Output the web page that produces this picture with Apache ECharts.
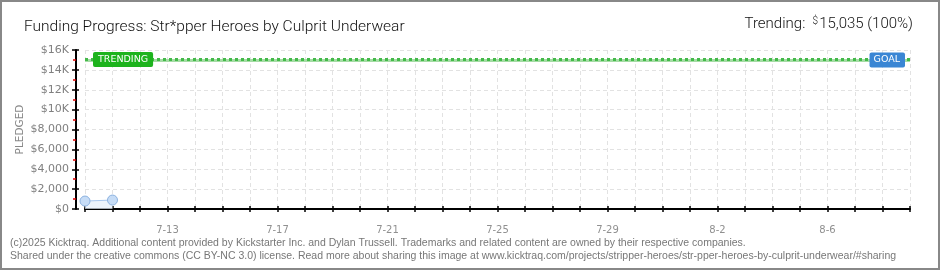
<!DOCTYPE html>
<html><head><meta charset="utf-8">
<script src="https://cdn.jsdelivr.net/npm/echarts@6/dist/echarts.min.js"></script>
<style>html,body{margin:0;padding:0;background:#fff}#c{width:940px;height:270px}</style>
</head><body><div id="c"></div>
<script>
var days = ['7-10','7-11','7-12','7-13','7-14','7-15','7-16','7-17','7-18','7-19','7-20','7-21','7-22','7-23','7-24','7-25','7-26','7-27','7-28','7-29','7-30','7-31','8-1','8-2','8-3','8-4','8-5','8-6','8-7','8-8','8-9'];
var pledged = [800, 900];
var trendingValue = 15035;
var goalValue = 15000;
var trendingPct = 100;
var yTicks = [0, 2000, 4000, 6000, 8000, 10000, 12000, 14000, 16000];

var chart = echarts.init(document.getElementById('c'));
function fmtY(v){ return v >= 10000 ? '$' + (v/1000) + 'K' : '$' + v.toLocaleString('en-US'); }
var tickFont = {fontFamily:'DejaVu Sans', fontSize:11, color:'#808080'};
var gridLine = {show:true, lineStyle:{color:'#e2e2e2', type:[4,3], width:1}};
chart.setOption({
  animation:false,
  backgroundColor:'#fff',
  title:[
    {text:'Funding Progress: Str*pper Heroes by Culprit Underwear', left:19, top:14,
     textStyle:{fontFamily:'Roboto', fontWeight:300, fontSize:15.5, color:'#111'}},
    {text:'{l|Trending:  }{d|$}{v|' + trendingValue.toLocaleString('en-US') + ' (' + trendingPct + '%)}', right:22, top:11,
     textStyle:{rich:{l:{fontFamily:'Roboto', fontWeight:300, fontSize:15, color:'#111'},
                      d:{fontFamily:'Roboto', fontWeight:300, fontSize:10, color:'#111', verticalAlign:'top', padding:[0,1,6,0]},
                      v:{fontFamily:'Roboto', fontWeight:300, fontSize:15, color:'#111'}}}}
  ],
  graphic:[
    {type:'rect', shape:{x:1, y:1, width:938, height:268}, style:{fill:'none', stroke:'#888', lineWidth:2}, silent:true},
    {type:'text', left:10, top:238, style:{text:'(c)2025 Kicktraq. Additional content provided by Kickstarter Inc. and Dylan Trussell. Trademarks and related content are owned by their respective companies.', fontFamily:'Liberation Sans', fontSize:10.5, fill:'#777'}},
    {type:'text', left:10, top:251, style:{text:'Shared under the creative commons (CC BY-NC 3.0) license. Read more about sharing this image at www.kicktraq.com/projects/stripper-heroes/str-pper-heroes-by-culprit-underwear/#sharing', fontFamily:'Liberation Sans', fontSize:10.5, fill:'#777'}}
  ],
  grid:{left:85, right:30, top:50, bottom:61},
  xAxis:[
    {type:'category', data:days, boundaryGap:false, offset:11,
     axisLine:{lineStyle:{color:'#000', width:2}},
     axisTick:{interval:0, length:3, lineStyle:{color:'#000', width:1.5}},
     axisLabel:{interval:function(i){return i%4===3;}, margin:5, fontFamily:'DejaVu Sans', fontSize:10, color:'#909090'},
     splitLine:{show:true, interval:0, lineStyle:{color:'#e2e2e2', type:[4,3], width:1}}},
    {type:'category', data:days, boundaryGap:false, offset:11, position:'bottom',
     axisLine:{show:false}, axisLabel:{show:false}, splitLine:{show:false},
     axisTick:{interval:0, inside:true, length:3, lineStyle:{color:'#000', width:1.5}}}
  ],
  yAxis:[
    {type:'value', min:0, max:16000, interval:2000, offset:9,
     name:'PLEDGED', nameLocation:'middle', nameGap:50, nameRotate:90, nameMoveOverlap:false,
     nameTextStyle:{fontFamily:'DejaVu Sans', fontSize:10.5, color:'#888'},
     axisLine:{show:true, lineStyle:{color:'#000', width:2}},
     axisTick:{show:true, length:4, lineStyle:{color:'#000', width:1.5}},
     minorTick:{show:true, splitNumber:2, length:3, lineStyle:{color:'#e00000', width:1.5}},
     axisLabel:Object.assign({formatter:fmtY, margin:7}, tickFont),
     splitLine:gridLine},
    {type:'value', min:0, max:16000, interval:2000, offset:9, position:'left',
     axisLine:{show:false}, axisLabel:{show:false}, splitLine:{show:false},
     axisTick:{show:true, inside:true, length:3, lineStyle:{color:'#000', width:1.5}}}
  ],
  series:[
    {name:'Pledged', type:'line', data:pledged, symbol:'circle', symbolSize:10, z:4,
     lineStyle:{color:'#a8c7ee', width:1},
     itemStyle:{color:'#c6dcf6', borderColor:'#8cb2e0', borderWidth:1},
     areaStyle:{color:'#e6effb'}},
    {name:'Goal', type:'line', data:[], z:2,
     markLine:{silent:true, symbol:'none',
       data:[{yAxis:goalValue}],
       lineStyle:{color:'#a5dca5', type:'solid', width:3},
       label:{show:true, position:'insideEnd', distance:5, formatter:'GOAL', color:'#fff',
              fontFamily:'DejaVu Sans', fontSize:9.5, backgroundColor:'#3a86d4', padding:[3,5,2,4], borderRadius:2}}},
    {name:'Trending', type:'line', data:[], z:3,
     markLine:{silent:true, symbol:'none',
       data:[{yAxis:trendingValue}],
       lineStyle:{color:'#44b94a', type:[3,3], width:3},
       label:{show:true, position:'insideStart', distance:8, formatter:'TRENDING', color:'#fff',
              fontFamily:'DejaVu Sans', fontSize:9.5, backgroundColor:'#1db31d', padding:[3,5,2,5], borderRadius:2}}}
  ]
});
</script></body></html>
